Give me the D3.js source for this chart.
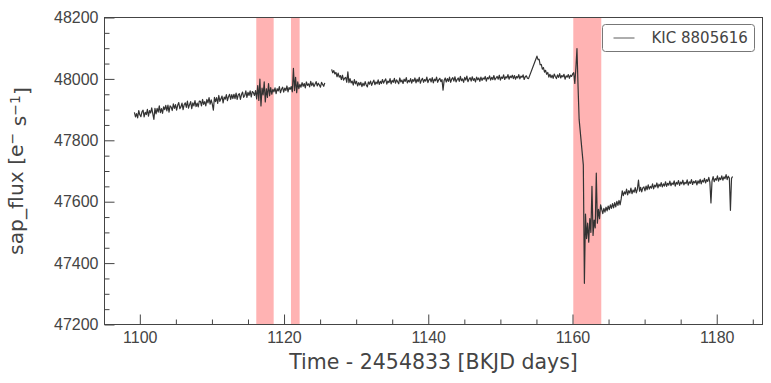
<!DOCTYPE html>
<html>
<head>
<meta charset="utf-8">
<script src="https://cdn.jsdelivr.net/npm/d3@7"></script>
<style>
  body { margin: 0; background: #fff; }
  svg { font-family: "DejaVu Sans", sans-serif; }
</style>
</head>
<body>
<div id="chart"></div>
<script>
// Kepler long-cadence light curve, KIC 8805616
var cadence = 0.15;
var segStart = [1099.25, 1126.6, 1155.07, 1161.5];
// line is broken (data gap drawn empty) after these segments
var breakAfter = [true, false, false];

var flux1 = [
  47891, 47876, 47887, 47873, 47897, 47883, 47877, 47893, 47898, 47876, 47891, 47884, 47901, 47879, 47897,
  47889, 47906, 47886, 47868, 47904, 47886, 47904, 47892, 47912, 47890, 47903, 47888, 47909, 47900, 47914,
  47896, 47915, 47892, 47912, 47908, 47897, 47919, 47904, 47916, 47898, 47914, 47923, 47903, 47909, 47921,
  47900, 47916, 47922, 47907, 47928, 47905, 47916, 47926, 47903, 47922, 47912, 47929, 47910, 47921, 47909, 47928,
  47927, 47912, 47933, 47917, 47926, 47912, 47933, 47922, 47939, 47918, 47932, 47918, 47898, 47940, 47926,
  47939, 47920, 47946, 47927, 47935, 47944, 47922, 47941, 47934, 47949, 47929, 47942, 47950, 47933, 47949, 47936,
  47950, 47936, 47954, 47933, 47948, 47952, 47933, 47949, 47957, 47940, 47946, 47961, 47940, 47956, 47946,
  47961, 47941, 47959, 47955, 47946,
  47962, 47935, 47978, 47930, 47999, 47912, 47970, 47948, 47990, 47925, 47968, 47940, 47985, 47945, 47972, 47950, 47966,
  47958, 47971, 47952, 47968, 47961, 47975, 47955, 47966, 47973, 47957, 47970, 47962, 47977, 47958, 47972, 47966,
  47975, 47958, 48034, 47962, 48005, 47955, 47990, 47968,
  47982, 47973, 47988, 47976, 47985, 47971, 47990, 47979, 47984, 47974, 47992, 47978, 47987, 47975, 47983,
  47991, 47977, 47986, 47980, 47973, 47989, 47982, 47976, 47987
];

var flux2 = [
  48031, 48020, 48027, 48016, 48021, 48007, 48019, 48006, 48011, 47998, 48012, 47996, 48002, 48005, 47989,
  48023, 47988, 48001, 47987, 47993, 47980, 47998, 47984, 47992, 47977, 47988, 47980,
  47989, 47975, 47986, 47978, 47991, 47980, 47974, 47990, 47983, 47993, 47979, 47988, 47996, 47981, 47990,
  47984, 47997, 47982, 47992,
  47985, 47998, 47986, 47994, 48000, 47983, 47993, 47988, 48001, 47984, 47995, 47989, 48002, 47986, 47997,
  47991, 47984, 48003, 47990, 47996, 47985, 47999, 47992, 48004, 47987, 47995, 47990, 48001, 47986, 47998,
  47992, 48003, 47987, 47999, 47991, 48005, 47986, 47996, 48002, 47989, 47998, 47993, 48006, 47988, 47997,
  48001, 47990, 48004, 47987, 47999, 47994, 48006, 47989, 47997, 48002, 47991, 47998, 47963, 47995, 48003, 47990,
  48001, 47992, 48006, 47989, 47999, 48004, 47993, 48007, 47990, 47998, 48003, 47992, 48008, 47994, 48000,
  47989, 48005, 47996, 48009, 47991, 47999, 48004, 47993, 48007, 47995, 48001, 47990, 48006, 47997, 48003, 47992,
  48006, 47995, 48003, 47999, 48008, 47993, 48004, 48000, 48010, 47996, 48005, 47998, 48011, 47997, 48003,
  48008, 47999, 48012, 47996, 48006, 48002, 48013, 47998, 48007, 48003, 48014, 47999, 48009, 48004, 48012, 48001,
  48011, 47999, 48008, 48003, 48014, 48000, 48009, 48005, 48013, 47998, 48007, 48010, 48002, 48001
];

var flux3 = [
  48074, 48063, 48064, 48046, 48047, 48032, 48037, 48022, 48028, 48015, 48021,
  48006, 48015, 48004, 48012, 48002, 48016, 48008, 48001, 48013, 48005, 48017, 48003, 48011, 48007, 48015,
  47999, 48010, 48006, 48014, 48002, 48012, 48008, 48016,
  48020, 47985, 48035, 48099, 47975, 47868
];

var flux4 = [
  47720, 47334, 47560, 47480, 47530, 47468, 47545, 47500, 47650, 47490, 47540, 47515, 47693, 47530, 47575, 47545, 47590,
  47575, 47561, 47578, 47566, 47582, 47570, 47586, 47574, 47590, 47578, 47594, 47580, 47597, 47583, 47601,
  47588, 47604, 47590, 47609,
  47635, 47620, 47632, 47625, 47641, 47622, 47636, 47628, 47644, 47626, 47638, 47631, 47646, 47629, 47641,
  47670, 47634, 47647, 47632, 47645,
  47648, 47635, 47651, 47639, 47655, 47641, 47650, 47644, 47658, 47642, 47654, 47648, 47661, 47645, 47657, 47650,
  47662, 47648, 47658, 47651, 47665, 47650, 47660, 47654, 47667, 47652, 47661, 47656, 47668, 47651, 47663,
  47657, 47669, 47653, 47664, 47658, 47670, 47655, 47663, 47659, 47671, 47654, 47665, 47660, 47672, 47656, 47666, 47661,
  47669, 47655, 47668, 47660, 47673, 47658, 47670, 47664, 47676, 47661, 47672, 47666, 47679, 47663, 47596,
  47668, 47682, 47665, 47675, 47670, 47684, 47667, 47678, 47672,
  47684, 47670, 47681, 47675, 47688, 47672, 47683, 47677, 47572, 47676, 47682
];

// shaded intervals (start, end) in BKJD days
var spanStart = [1116.15, 1120.96, 1160.11];
var spanEnd = [1118.56, 1122.16, 1163.99];

var xMajor = [1100, 1120, 1140, 1160, 1180];
var yMajor = [47200, 47400, 47600, 47800, 48000, 48200];
var yDomain = [47200, 48200];
var legendLabel = "KIC 8805616";

var width = 771, height = 383;
var margin = {left: 104.5, top: 17.5, right: 8.5, bottom: 58.5};
var w = width - margin.left - margin.right,
    h = height - margin.top - margin.bottom;
var textColor = "#444";

var fluxSegs = [flux1, flux2, flux3, flux4];

// build the plotted pieces; consecutive segments join unless there is a break
var pieces = [[]];
fluxSegs.forEach(function(f, s) {
  f.forEach(function(v, i) {
    pieces[pieces.length - 1].push({t: segStart[s] + i * cadence, flux: v});
  });
  if (breakAfter[s]) pieces.push([]);
});

var allPts = d3.merge(pieces);
var tExt = d3.extent(allPts, function(d) { return d.t; });
var pad = (tExt[1] - tExt[0]) * 0.05;

var x = d3.scaleLinear().domain([tExt[0] - pad, tExt[1] + pad]).range([0, w]);
var y = d3.scaleLinear().domain(yDomain).range([h, 0]);

var svg = d3.select("#chart").append("svg")
  .attr("width", width)
  .attr("height", height);

var g = svg.append("g")
  .attr("transform", "translate(" + margin.left + "," + margin.top + ")");

g.append("defs").append("clipPath").attr("id", "clip")
  .append("rect").attr("width", w).attr("height", h);

// red shaded regions
g.selectAll(".span")
  .data(spanStart)
  .enter().append("rect")
  .attr("class", "span")
  .attr("x", function(d) { return x(d); })
  .attr("width", function(d, i) { return x(spanEnd[i]) - x(d); })
  .attr("y", 0)
  .attr("height", h)
  .attr("fill", "#ffb3b3");

var line = d3.line()
  .x(function(d) { return x(d.t); })
  .y(function(d) { return y(d.flux); });

g.append("g").attr("clip-path", "url(#clip)")
  .selectAll("path.lc")
  .data(pieces)
  .enter().append("path")
  .attr("class", "lc")
  .attr("d", line)
  .attr("fill", "none")
  .attr("stroke", "#333")
  .attr("stroke-width", 1.2)
  .attr("stroke-linejoin", "round");

// minor ticks
var xMinor = d3.range(1100 - 5, tExt[1] + pad, 5).filter(function(v) { return xMajor.indexOf(v) < 0 && x(v) > 0; });
var yMinor = d3.range(yDomain[0], yDomain[1], 50).filter(function(v) { return yMajor.indexOf(v) < 0; });

g.append("g")
  .attr("transform", "translate(0," + h + ")")
  .call(d3.axisBottom(x).tickValues(xMinor).tickSize(-5).tickFormat(""));
g.append("g")
  .call(d3.axisLeft(y).tickValues(yMinor).tickSize(-5).tickFormat(""));

// major ticks
var xAxis = g.append("g")
  .attr("transform", "translate(0," + h + ")")
  .call(d3.axisBottom(x).tickValues(xMajor).tickSize(-10).tickPadding(7).tickFormat(d3.format("d")));
var yAxis = g.append("g")
  .call(d3.axisLeft(y).tickValues(yMajor).tickSize(-10).tickPadding(6).tickFormat(d3.format("d")));

g.selectAll(".domain").remove();
g.selectAll(".tick line").attr("stroke", textColor).attr("stroke-width", 1);
[xAxis, yAxis].forEach(function(a) {
  a.selectAll("text")
    .attr("fill", textColor)
    .style("font-size", "16px");
});

// spines
g.append("rect")
  .attr("width", w)
  .attr("height", h)
  .attr("fill", "none")
  .attr("stroke", textColor)
  .attr("stroke-width", 1);

// axis labels
svg.append("text")
  .attr("x", margin.left + w / 2)
  .attr("y", 369)
  .attr("text-anchor", "middle")
  .attr("fill", textColor)
  .style("font-size", "20.5px")
  .text("Time - 2454833 [BKJD days]");

var yl = svg.append("text")
  .attr("transform", "translate(23," + (margin.top + h / 2) + ") rotate(-90)")
  .attr("text-anchor", "middle")
  .attr("fill", textColor)
  .style("font-size", "20.3px");
yl.append("tspan").text("sap_flux [e");
yl.append("tspan").attr("dy", "-0.45em").style("font-size", "14px").text("\u2212");
yl.append("tspan").attr("dy", "0.45em").text(" s");
yl.append("tspan").attr("dy", "-0.45em").style("font-size", "14px").text("\u22121");
yl.append("tspan").attr("dy", "0.45em").text("]");

// legend
var lg = g.append("g").attr("transform", "translate(" + (w - 160) + ",7)");
lg.append("rect")
  .attr("width", 152)
  .attr("height", 27)
  .attr("rx", 3)
  .attr("fill", "#fff")
  .attr("stroke", "#777")
  .attr("stroke-width", 1);
lg.append("line")
  .attr("x1", 11).attr("x2", 32)
  .attr("y1", 13.5).attr("y2", 13.5)
  .attr("stroke", "#333")
  .attr("stroke-width", 0.8);
lg.append("text")
  .attr("x", 49)
  .attr("y", 13.5)
  .attr("dy", "0.35em")
  .attr("fill", textColor)
  .style("font-size", "15px")
  .text(legendLabel);
</script>
</body>
</html>
